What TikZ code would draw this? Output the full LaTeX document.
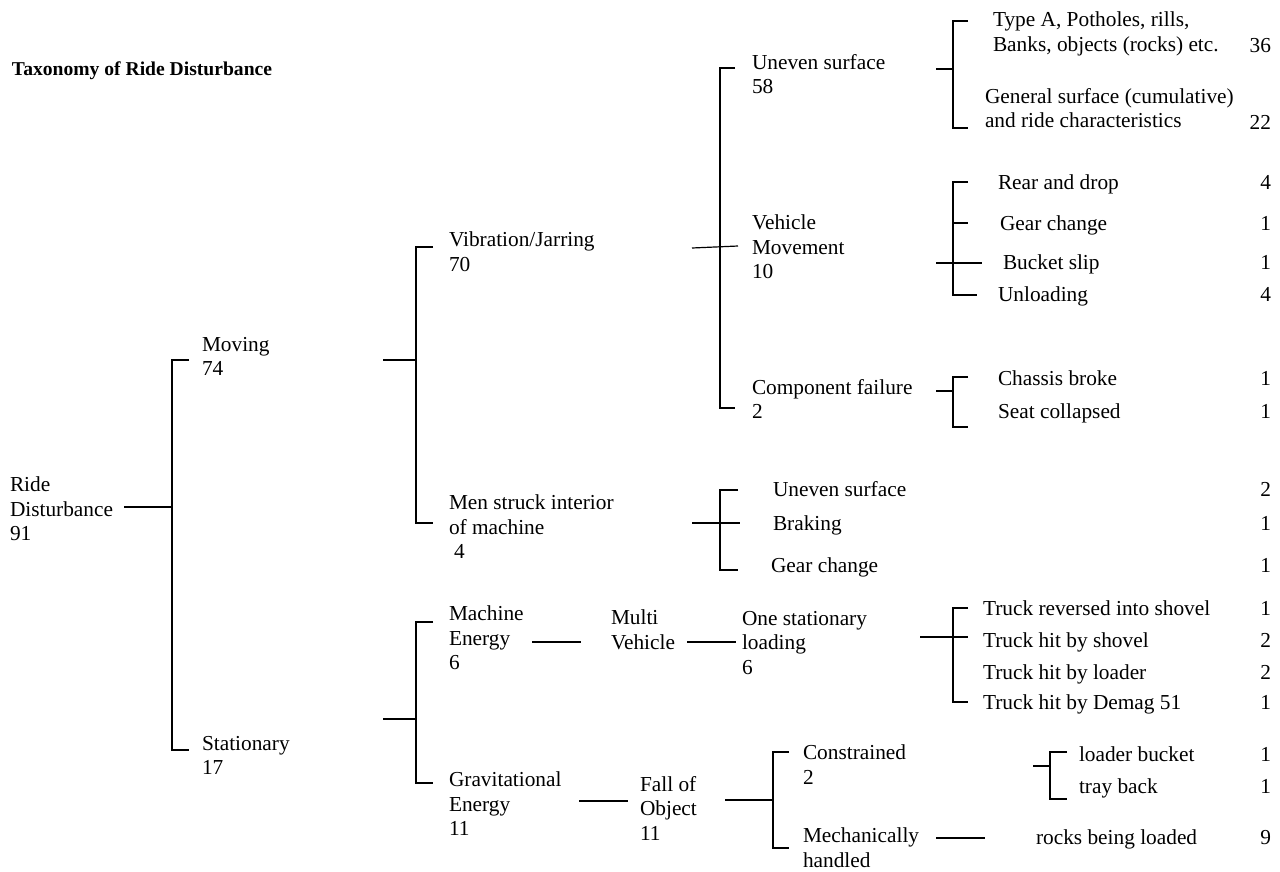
\documentclass[tikz,border=0pt]{standalone}
\usepackage{fontspec}
\setmainfont{Liberation Serif}
\newcommand\fs{\fontsize{21.33}{24.5}\selectfont}
\newcommand\fstitle{\fontsize{19.6}{22}\selectfont\bfseries}
\begin{document}
\begin{tikzpicture}[x=1pt,y=-1pt,
  lbl/.style={anchor=north west,inner sep=0pt,outer sep=0pt,align=left,font=\fs,execute at begin node=\strut},
  num/.style={anchor=north east,inner sep=0pt,outer sep=0pt,font=\fs,execute at begin node=\strut},
  ln/.style={line width=1.2pt}]
\useasboundingbox (0,0) rectangle (1280,871);

% ---------- texts ----------
\node[lbl,font=\fstitle] (title) at (12,60) {Taxonomy of Ride Disturbance};
\node[lbl] (root) at (10,477) {Ride\\Disturbance\\91};
\node[lbl] (moving) at (202,337) {Moving\\74};
\node[lbl] (stat) at (202,736) {Stationary\\17};
\node[lbl] (vib) at (449,232) {Vibration/Jarring\\70};
\node[lbl] (men) at (449,495) {Men struck interior\\of machine\\\hspace*{5pt}4};
\node[lbl] (mach) at (449,606) {Machine\\Energy\\6};
\node[lbl] (grav) at (449,772) {Gravitational\\Energy\\11};
\node[lbl] (multi) at (611,610) {Multi\\Vehicle};
\node[lbl] (onest) at (742,611) {One stationary\\loading\\6};
\node[lbl] (fall) at (640,776) {Fall of\\Object\\11};
\node[lbl] (constr) at (803,745) {Constrained\\2};
\node[lbl] (mech) at (803,828) {Mechanically\\handled};
\node[lbl] (uneven) at (752,54) {Uneven surface\\58};
\node[lbl] (vehmov) at (752,215) {Vehicle\\Movement\\10};
\node[lbl] (comp) at (752,379) {Component failure\\2};
\node[lbl] (typea) at (993,12) {Type A, Potholes, rills,\\Banks, objects (rocks) etc.};
\node[lbl] (gensurf) at (985,88) {General surface (cumulative)\\and ride characteristics};
\node[lbl] (rear) at (998,172) {Rear and drop};
\node[lbl] (gear1) at (1000,213) {Gear change};
\node[lbl] (bucket) at (1003,252) {Bucket slip};
\node[lbl] (unload) at (998,284) {Unloading};
\node[lbl] (chassis) at (998,368) {Chassis broke};
\node[lbl] (seat) at (998,401) {Seat collapsed};
\node[lbl] (uneven2) at (773,479) {Uneven surface};
\node[lbl] (braking) at (773,513) {Braking};
\node[lbl] (gear2) at (771,555) {Gear change};
\node[lbl] (trev) at (983,598) {Truck reversed into shovel};
\node[lbl] (tshov) at (983,630) {Truck hit by shovel};
\node[lbl] (tload) at (983,662) {Truck hit by loader};
\node[lbl] (tdem) at (983,692) {Truck hit by Demag 51};
\node[lbl] (lbuck) at (1079,744) {loader bucket};
\node[lbl] (tray) at (1079,776) {tray back};
\node[lbl] (rocks) at (1036,827) {rocks being loaded};

% ---------- counts ----------
\node[num] (c36) at (1271,35) {36};
\node[num] (c22) at (1271,112) {22};
\node[num] (crear) at (1271,172) {4};
\node[num] (cgear1) at (1271,213) {1};
\node[num] (cbuck) at (1271,252) {1};
\node[num] (cunl) at (1271,284) {4};
\node[num] (cchas) at (1271,368) {1};
\node[num] (cseat) at (1271,401) {1};
\node[num] (cunev) at (1271,479) {2};
\node[num] (cbrak) at (1271,513) {1};
\node[num] (cgear2) at (1271,555) {1};
\node[num] (ctrev) at (1271,598) {1};
\node[num] (ctshov) at (1271,630) {2};
\node[num] (ctload) at (1271,662) {2};
\node[num] (ctdem) at (1271,692) {1};
\node[num] (clb) at (1271,744) {1};
\node[num] (ctray) at (1271,776) {1};
\node[num] (crock) at (1271,827) {9};

% ---------- connector points ----------
\coordinate (r0) at (124,507);  \coordinate (r1) at (172,507);
\coordinate (a1) at (189,360);  \coordinate (a2) at (172,360);
\coordinate (a3) at (172,750);  \coordinate (a4) at (189,750);

\coordinate (m0) at (383,360);  \coordinate (m1) at (416,360);
\coordinate (b1) at (433,247);  \coordinate (b2) at (416,247);
\coordinate (b3) at (416,523);  \coordinate (b4) at (433,523);

\coordinate (s0) at (383,719);  \coordinate (s1) at (416,719);
\coordinate (c1) at (433,622);  \coordinate (c2) at (416,622);
\coordinate (c3) at (416,783);  \coordinate (c4) at (433,783);

\coordinate (v0) at (692,248);  \coordinate (v1) at (738,246);
\coordinate (d1) at (735,68);   \coordinate (d2) at (720,68);
\coordinate (d3) at (720,408);  \coordinate (d4) at (735,408);

\coordinate (u0) at (936,69);   \coordinate (u1) at (953,69);
\coordinate (e1) at (968,21);   \coordinate (e2) at (953,21);
\coordinate (e3) at (953,128);  \coordinate (e4) at (968,128);

\coordinate (h0) at (936,263);  \coordinate (h1) at (982,263);
\coordinate (f1) at (968,182);  \coordinate (f2) at (953,182);
\coordinate (f3) at (953,295);  \coordinate (f4) at (977,295);
\coordinate (f5) at (953,223);  \coordinate (f6) at (968,223);

\coordinate (k0) at (936,391);  \coordinate (k1) at (953,391);
\coordinate (g1) at (968,377);  \coordinate (g2) at (953,377);
\coordinate (g3) at (953,427);  \coordinate (g4) at (968,427);

\coordinate (n0) at (692,523);  \coordinate (n1) at (740,523);
\coordinate (p1) at (738,490);  \coordinate (p2) at (720,490);
\coordinate (p3) at (720,570);  \coordinate (p4) at (738,570);

\coordinate (me0) at (532,642); \coordinate (me1) at (581,642);
\coordinate (mv0) at (687,642); \coordinate (mv1) at (736,642);

\coordinate (o0) at (920,637);  \coordinate (o1) at (968,637);
\coordinate (q1) at (968,608);  \coordinate (q2) at (953,608);
\coordinate (q3) at (953,702);  \coordinate (q4) at (968,702);

\coordinate (ge0) at (579,801); \coordinate (ge1) at (628,801);
\coordinate (fo0) at (725,800); \coordinate (fo1) at (773,800);
\coordinate (t1) at (789,752);  \coordinate (t2) at (773,752);
\coordinate (t3) at (773,848);  \coordinate (t4) at (789,848);

\coordinate (co0) at (1033,766); \coordinate (co1) at (1050,766);
\coordinate (w1) at (1067,752);  \coordinate (w2) at (1050,752);
\coordinate (w3) at (1050,799);  \coordinate (w4) at (1067,799);

\coordinate (mh0) at (936,838); \coordinate (mh1) at (985,838);

% ---------- connectors ----------
\draw[ln] (r0) -- (r1);
\draw[ln] (a1) -- (a2) -- (a3) -- (a4);
\draw[ln] (m0) -- (m1);
\draw[ln] (b1) -- (b2) -- (b3) -- (b4);
\draw[ln] (s0) -- (s1);
\draw[ln] (c1) -- (c2) -- (c3) -- (c4);
\draw[ln] (v0) -- (v1);
\draw[ln] (d1) -- (d2) -- (d3) -- (d4);
\draw[ln] (u0) -- (u1);
\draw[ln] (e1) -- (e2) -- (e3) -- (e4);
\draw[ln] (h0) -- (h1);
\draw[ln] (f1) -- (f2) -- (f3) -- (f4);
\draw[ln] (f5) -- (f6);
\draw[ln] (k0) -- (k1);
\draw[ln] (g1) -- (g2) -- (g3) -- (g4);
\draw[ln] (n0) -- (n1);
\draw[ln] (p1) -- (p2) -- (p3) -- (p4);
\draw[ln] (me0) -- (me1);
\draw[ln] (mv0) -- (mv1);
\draw[ln] (o0) -- (o1);
\draw[ln] (q1) -- (q2) -- (q3) -- (q4);
\draw[ln] (ge0) -- (ge1);
\draw[ln] (fo0) -- (fo1);
\draw[ln] (t1) -- (t2) -- (t3) -- (t4);
\draw[ln] (co0) -- (co1);
\draw[ln] (w1) -- (w2) -- (w3) -- (w4);
\draw[ln] (mh0) -- (mh1);
\end{tikzpicture}
\end{document}
